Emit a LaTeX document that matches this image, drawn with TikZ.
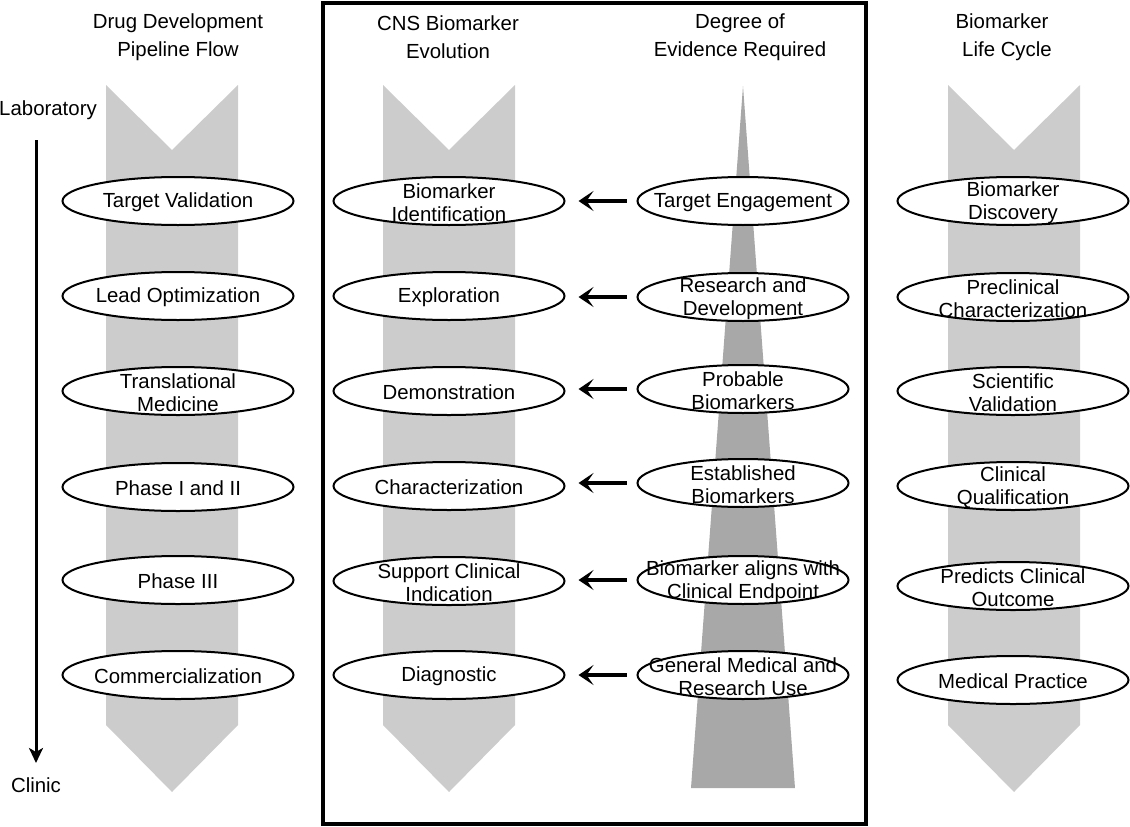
\documentclass[tikz,border=0pt]{standalone}
\usepackage{fontspec}
\setmainfont{Liberation Sans}
\usetikzlibrary{shapes.geometric,arrows.meta}
\definecolor{lightg}{HTML}{CCCCCC}
\definecolor{darkg}{HTML}{A8A8A8}
\begin{document}
\begin{tikzpicture}[x=1pt,y=-1pt,
  ell/.style={ellipse, draw, line width=2pt, fill=white, minimum width=231pt, minimum height=48pt, inner sep=0pt},
  dell/.style={ell, minimum width=211pt},
  lbl/.style={align=center, font=\fontsize{20.4}{23}\selectfont, inner sep=0pt, yshift=-1.5pt},
  ttl/.style={align=center, font=\fontsize{20.4}{28}\selectfont, inner sep=0pt},
  txt/.style={font=\fontsize{20.4}{23}\selectfont, inner sep=0pt},
  conn/.style={line width=3.6pt, -{Stealth[length=15pt,width=20pt,inset=7pt]}},
]
\useasboundingbox (0,0) rectangle (1130,827);

% chevrons
\foreach \cx in {172,449,1014}{
  \fill[lightg] (\cx-66,85) -- (\cx,150) -- (\cx+66,85) -- (\cx+66,725) -- (\cx,792) -- (\cx-66,725) -- cycle;
}
% tower
\fill[darkg] (743,86) -- (795,788) -- (691,788) -- cycle;

% frame
\draw[line width=4pt] (323,3) rectangle (866,824);

% titles
\node[ttl] (t1) at (178,37) {Drug Development\\Pipeline Flow};
\node[ttl] (t2) at (448,37) {CNS Biomarker\\Evolution};
\node[ttl] (t3) at (740,37) {Degree of\\Evidence Required};
\node[ttl] (t4) at (1002,37) {Biomarker\\\hspace*{10pt}Life Cycle};

% laboratory -> clinic
\node[txt] (lab) at (48,110) {Laboratory};
\node[txt] (clin) at (36,785) {Clinic};
\coordinate (labs) at (36,140);
\coordinate (cline) at (36,763);
\draw[line width=3pt, -{Stealth[length=15pt,width=14pt,inset=4pt]}] (labs) -- (cline);

% left column
\node[ell, label={[lbl]center:{Target Validation}}] (a1) at (178,201) {};
\node[ell, label={[lbl]center:{Lead Optimization}}] (a2) at (178,296) {};
\node[ell, label={[lbl]center:{Translational\\Medicine}}] (a3) at (178,391) {};
\node[ell, label={[lbl]center:{Phase I and II}}] (a4) at (178,487) {};
\node[ell, label={[lbl]center:{Phase III}}] (a5) at (178,580) {};
\node[ell, label={[lbl]center:{Commercialization}}] (a6) at (178,675) {};

% CNS biomarker evolution
\node[ell, label={[lbl]center:{Biomarker\\Identification}}] (m1) at (449,201) {};
\node[ell, label={[lbl]center:{Exploration}}] (m2) at (449,296) {};
\node[ell, label={[lbl]center:{Demonstration}}] (m3) at (449,391) {};
\node[ell, label={[lbl]center:{Characterization}}] (m4) at (449,486) {};
\node[ell, label={[lbl]center:{Support Clinical\\Indication}}] (m5) at (449,581) {};
\node[ell, label={[lbl]center:{Diagnostic}}] (m6) at (449,675) {};

% degree of evidence
\node[dell, label={[lbl]center:{Target Engagement}}] (d1) at (743,201) {};
\node[dell, label={[lbl]center:{Research and\\Development}}] (d2) at (743,297) {};
\node[dell, label={[lbl]center:{Probable\\Biomarkers}}] (d3) at (743,389) {};
\node[dell, label={[lbl]center:{Established\\Biomarkers}}] (d4) at (743,483) {};
\node[dell, label={[lbl]center:{Biomarker aligns with\\Clinical Endpoint}}] (d5) at (743,580) {};
\node[dell, label={[lbl]center:{General Medical and\\Research Use}}] (d6) at (743,675) {};

% life cycle
\node[ell, label={[lbl]center:{Biomarker\\Discovery}}] (r1) at (1013,201) {};
\node[ell, label={[lbl]center:{Preclinical\\Characterization}}] (r2) at (1013,297) {};
\node[ell, label={[lbl]center:{Scientific\\Validation}}] (r3) at (1013,391) {};
\node[ell, label={[lbl]center:{Clinical\\Qualification}}] (r4) at (1013,486) {};
\node[ell, label={[lbl]center:{Predicts Clinical\\Outcome}}] (r5) at (1013,586) {};
\node[ell, label={[lbl]center:{Medical Practice}}] (r6) at (1013,680) {};

% arrows
\foreach \i in {1,...,6}{
  \draw[conn, shorten <=10pt, shorten >=13pt] (d\i.west) -- (d\i.west -| m\i.east);
}
\end{tikzpicture}
\end{document}
